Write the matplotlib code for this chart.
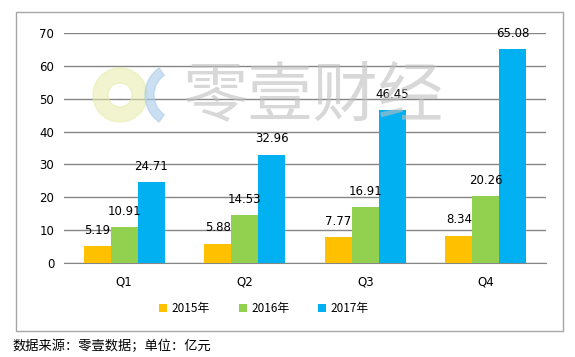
import numpy as np
import matplotlib.pyplot as plt
from matplotlib.patches import Wedge, Rectangle

plt.rcParams['font.family'] = ['Noto Sans CJK SC', 'DejaVu Sans']

quarters = ["Q1", "Q2", "Q3", "Q4"]
years = ["2015年", "2016年", "2017年"]
v2015 = [5.19, 5.88, 7.77, 8.34]
v2016 = [10.91, 14.53, 16.91, 20.26]
v2017 = [24.71, 32.96, 46.45, 65.08]
colors = ["#FFC000", "#92D050", "#00B0F0"]

fig = plt.figure(figsize=(5.75, 3.57), dpi=100)
# outer frame
fig.patches.append(Rectangle((16/575, 1-331/357), (563-16)/575, (331-12)/357,
                             transform=fig.transFigure, fill=False,
                             edgecolor="#A6A6A6", linewidth=1.0))
ax = fig.add_axes([64/575, 1-263/357, (546-64)/575, (263-33)/357])

x = np.arange(len(quarters))
w = 0.224
series = [v2015, v2016, v2017]
for i, vals in enumerate(series):
    bars = ax.bar(x + (i-1)*w, vals, w, color=colors[i], label=years[i], zorder=3)
    for b, v in zip(bars, vals):
        ax.text(b.get_x()+b.get_width()/2, v+4.8, f"{v:.2f}", ha="center",
                va="center", fontsize=8.5, color="#000000", zorder=7,
                family="DejaVu Sans")

ax.set_xlim(-0.5, 3.5)
ax.set_ylim(0, 70)
ax.set_yticks(range(0, 71, 10))
ax.yaxis.grid(True, color="#868686", linewidth=1.0, zorder=0)
ax.set_axisbelow(True)
for s in ["top", "right", "left"]:
    ax.spines[s].set_visible(False)
ax.spines["bottom"].set_color("#868686")
ax.tick_params(axis="both", length=0, labelsize=8.5, colors="#000000")
ax.tick_params(axis="y", pad=7)
ax.tick_params(axis="x", pad=9)
ax.set_xticks(x)
ax.set_xticklabels(quarters)
for lab in ax.get_xticklabels() + ax.get_yticklabels():
    lab.set_family("DejaVu Sans")

# watermark (logo + name), in inches so circles stay round
it = fig.dpi_scale_trans
H = 3.57
fig.patches.append(Wedge((1.20, H-0.95), 0.27, 0, 360, width=0.15,
                         transform=it, color="#E6ECA8", alpha=0.55, zorder=6))
fig.patches.append(Wedge((1.78, H-0.95), 0.33, 125, 235, width=0.09,
                         transform=it, color="#A9CBEA", alpha=0.6, zorder=6))
fig.text(183/575, 1-97/357, "零壹财经", fontsize=47, color="#BFBFBF", alpha=0.6,
         va="center", ha="left", zorder=6, fontweight="light")

leg = ax.legend(loc="upper center", bbox_to_anchor=(0.415, -0.125), ncol=3,
                frameon=False, fontsize=8.5, handlelength=0.7, handleheight=0.7,
                columnspacing=2.4, handletextpad=0.4)

fig.text(12/575, 1-346/357, "数据来源：零壹数据；单位：亿元", fontsize=9.5,
         color="#000000", va="center", ha="left")

fig.savefig("out.png", dpi=100)
